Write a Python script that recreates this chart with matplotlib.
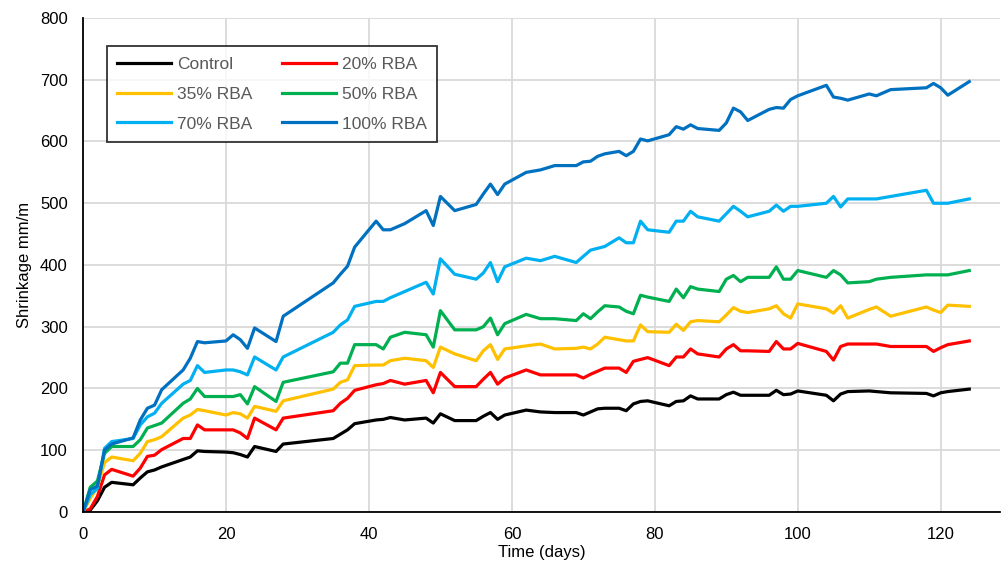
import matplotlib
matplotlib.use("Agg")
import matplotlib.pyplot as plt

plt.rcParams['font.family'] = ['Liberation Sans', 'DejaVu Sans']

# test days
days = [0, 1, 2, 3, 4, 7, 8, 9, 10, 11, 14, 15, 16, 17, 20, 21, 22, 23, 24, 27, 28,
        35, 36, 37, 38, 41, 42, 43, 45, 48, 49, 50, 52, 55, 56, 57, 58, 59, 62, 64, 66,
        69, 70, 71, 72, 73, 75, 76, 77, 78, 79, 82, 83, 84, 85, 86, 89, 90, 91, 92, 93,
        96, 97, 98, 99, 100, 104, 105, 106, 107, 110, 111, 113, 118, 119, 120, 121, 124]

control = [0, 3, 18, 40, 48, 44, 55, 65, 68, 73, 85, 89, 99, 98, 97, 96, 93, 89, 106, 98, 110,
           119, 126, 133, 143, 149, 150, 153, 149, 152, 144, 159, 148, 148, 155, 161, 150, 157, 165, 162, 161,
           161, 157, 162, 167, 168, 168, 164, 175, 179, 180, 172, 179, 180, 188, 183, 183, 190, 194, 189, 189,
           189, 197, 190, 191, 196, 189, 180, 191, 195, 196, 195, 193, 192, 188, 193, 195, 199]

rba20 = [0, 5, 25, 60, 69, 58, 71, 90, 92, 101, 119, 119, 141, 133, 133, 133, 128, 119, 152, 133, 152,
         164, 176, 184, 197, 206, 208, 213, 207, 213, 193, 226, 203, 203, 215, 226, 207, 217, 230, 222, 222,
         222, 217, 223, 228, 233, 233, 226, 244, 247, 250, 237, 251, 251, 264, 256, 251, 264, 271, 261, 261,
         260, 276, 264, 264, 273, 260, 246, 268, 272, 272, 272, 268, 268, 260, 266, 271, 277]

rba35 = [0, 22, 40, 80, 89, 83, 95, 114, 117, 122, 152, 157, 166, 164, 157, 161, 159, 152, 171, 163, 180,
         199, 210, 214, 237, 238, 238, 245, 249, 245, 234, 267, 256, 245, 261, 271, 247, 264, 269, 272, 264,
         265, 267, 264, 272, 283, 279, 277, 277, 303, 292, 291, 304, 294, 308, 310, 308, 319, 331, 325, 323,
         329, 334, 321, 314, 337, 329, 322, 334, 314, 328, 332, 317, 332, 327, 323, 335, 333]

rba50 = [0, 40, 50, 95, 106, 106, 117, 136, 140, 144, 176, 183, 200, 187, 187, 187, 190, 175, 203, 179, 210,
         227, 241, 241, 271, 271, 264, 283, 291, 287, 267, 326, 295, 295, 300, 314, 287, 305, 320, 313, 313,
         310, 321, 313, 324, 334, 332, 325, 321, 351, 348, 341, 361, 347, 365, 361, 357, 377, 383, 373, 380,
         380, 397, 377, 377, 391, 380, 391, 384, 371, 373, 377, 380, 384, 384, 384, 384, 391]

rba70 = [0, 28, 38, 103, 114, 119, 141, 154, 160, 176, 207, 213, 237, 226, 230, 230, 227, 222, 251, 230, 251,
         291, 303, 311, 333, 341, 341, 347, 357, 372, 353, 410, 385, 377, 387, 404, 373, 397, 411, 407, 414,
         404, 414, 424, 427, 430, 444, 436, 436, 471, 457, 453, 471, 471, 487, 478, 471, 483, 495, 487, 478,
         487, 497, 487, 495, 495, 500, 511, 494, 507, 507, 507, 511, 521, 500, 500, 500, 507]

rba100 = [0, 36, 42, 100, 110, 120, 149, 168, 173, 198, 230, 249, 276, 274, 277, 287, 279, 265, 298, 276, 317,
          371, 385, 398, 429, 471, 457, 457, 467, 488, 464, 511, 488, 498, 515, 531, 514, 531, 550, 554, 561,
          561, 567, 568, 576, 580, 584, 577, 584, 604, 601, 611, 624, 620, 627, 621, 618, 630, 654, 648, 634,
          652, 655, 654, 668, 674, 691, 672, 670, 667, 677, 674, 684, 687, 694, 687, 675, 697]

labels = ['Control', '20% RBA', '35% RBA', '50% RBA', '70% RBA', '100% RBA']
colors = ['#000000', '#FF0000', '#FFC000', '#00B050', '#00B0F0', '#0070C0']

fig = plt.figure(figsize=(10.01, 5.77), dpi=100)
ax = fig.add_axes([0.083, 0.1127, 0.916, 0.8561])

series = [control, rba20, rba35, rba50, rba70, rba100]
lines = []
for vals, lab, col in zip(series, labels, colors):
    ln, = ax.plot(days, vals, color=col, lw=2.3, label=lab, solid_joinstyle='round')
    lines.append(ln)

ax.set_xlim(0, 128.3)
ax.set_ylim(0, 800)
ax.set_xticks(range(0, 121, 20))
ax.set_yticks(range(0, 801, 100))
ax.grid(True, color='#D9D9D9', lw=1.3)
ax.set_axisbelow(True)
for s in ['top', 'right']:
    ax.spines[s].set_visible(False)
for s in ['left', 'bottom']:
    ax.spines[s].set_linewidth(1.3)
ax.tick_params(length=0, labelsize=12, pad=11)

ax.set_xlabel('Time (days)', fontsize=12, labelpad=2)
ax.set_ylabel('Shrinkage mm/m', fontsize=12, labelpad=6)

# row-wise order in a 2-column legend
order = [0, 2, 4, 1, 3, 5]
leg = ax.legend([lines[i] for i in order], [labels[i] for i in order],
                ncol=2, loc='upper left', bbox_to_anchor=(0.026, 0.943),
                borderaxespad=0, fontsize=12.5, frameon=True, fancybox=False,
                edgecolor='black', handlelength=3.1, handletextpad=0.35,
                labelspacing=0.85, columnspacing=1.7, borderpad=0.6)
leg.get_frame().set_linewidth(1.3)
for t in leg.get_texts():
    t.set_color('#595959')

fig.savefig('out.png', dpi=100)
